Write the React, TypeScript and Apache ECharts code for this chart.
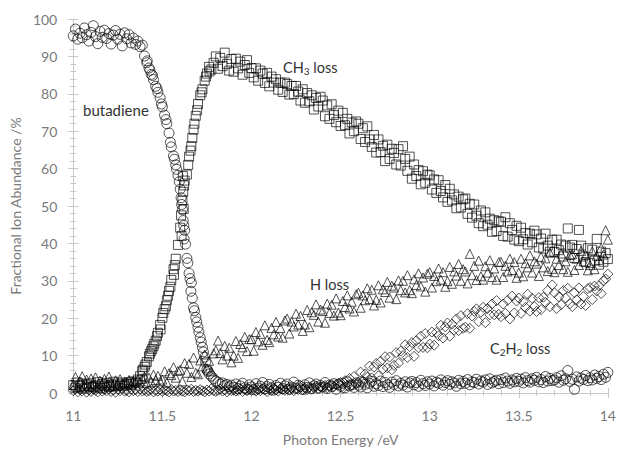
import React, { useEffect, useRef } from "react";
import * as echarts from "echarts";

// Photon energy grid (eV)
const energies = [
  11, 11.0125, 11.025, 11.0375, 11.05, 11.0625, 11.075, 11.0875,
  11.1, 11.1125, 11.125, 11.1375, 11.15, 11.1625, 11.175, 11.1875,
  11.2, 11.2125, 11.225, 11.2375, 11.25, 11.2625, 11.275, 11.2875,
  11.3, 11.3125, 11.325, 11.3375, 11.35, 11.3625, 11.375, 11.3875,
  11.4, 11.4125, 11.425, 11.4375, 11.45, 11.4625, 11.475, 11.4875,
  11.5, 11.5125, 11.525, 11.5375, 11.55, 11.5625, 11.575, 11.5875,
  11.6, 11.6125, 11.625, 11.6375, 11.65, 11.6625, 11.675, 11.6875,
  11.7, 11.7125, 11.725, 11.7375, 11.75, 11.7625, 11.775, 11.7875,
  11.8, 11.8125, 11.825, 11.8375, 11.85, 11.8625, 11.875, 11.8875,
  11.9, 11.9125, 11.925, 11.9375, 11.95, 11.9625, 11.975, 11.9875,
  12, 12.0125, 12.025, 12.0375, 12.05, 12.0625, 12.075, 12.0875,
  12.1, 12.1125, 12.125, 12.1375, 12.15, 12.1625, 12.175, 12.1875,
  12.2, 12.2125, 12.225, 12.2375, 12.25, 12.2625, 12.275, 12.2875,
  12.3, 12.3125, 12.325, 12.3375, 12.35, 12.3625, 12.375, 12.3875,
  12.4, 12.4125, 12.425, 12.4375, 12.45, 12.4625, 12.475, 12.4875,
  12.5, 12.5125, 12.525, 12.5375, 12.55, 12.5625, 12.575, 12.5875,
  12.6, 12.6125, 12.625, 12.6375, 12.65, 12.6625, 12.675, 12.6875,
  12.7, 12.7125, 12.725, 12.7375, 12.75, 12.7625, 12.775, 12.7875,
  12.8, 12.8125, 12.825, 12.8375, 12.85, 12.8625, 12.875, 12.8875,
  12.9, 12.9125, 12.925, 12.9375, 12.95, 12.9625, 12.975, 12.9875,
  13, 13.0125, 13.025, 13.0375, 13.05, 13.0625, 13.075, 13.0875,
  13.1, 13.1125, 13.125, 13.1375, 13.15, 13.1625, 13.175, 13.1875,
  13.2, 13.2125, 13.225, 13.2375, 13.25, 13.2625, 13.275, 13.2875,
  13.3, 13.3125, 13.325, 13.3375, 13.35, 13.3625, 13.375, 13.3875,
  13.4, 13.4125, 13.425, 13.4375, 13.45, 13.4625, 13.475, 13.4875,
  13.5, 13.5125, 13.525, 13.5375, 13.55, 13.5625, 13.575, 13.5875,
  13.6, 13.6125, 13.625, 13.6375, 13.65, 13.6625, 13.675, 13.6875,
  13.7, 13.7125, 13.725, 13.7375, 13.75, 13.7625, 13.775, 13.7875,
  13.8, 13.8125, 13.825, 13.8375, 13.85, 13.8625, 13.875, 13.8875,
  13.9, 13.9125, 13.925, 13.9375, 13.95, 13.9625, 13.975, 13.9875,
  14,
];

// Fractional ion abundance (%) on the energy grid
const butadiene = [
  95.5, 97.3, 94.6, 96.2, 95.0, 97.6, 95.8, 94.1,
  96.4, 98.2, 95.3, 93.4, 96.7, 95.1, 97.0, 94.8,
  96.1, 93.3, 95.7, 96.9, 94.6, 95.9, 92.8, 96.3,
  94.7, 95.8, 93.6, 94.9, 93.2, 94.1, 92.6, 93.0,
  90.1, 88.3, 86.9, 85.2, 83.8, 82.0, 80.4, 78.9,
  76.5, 74.3, 72.0, 69.5, 65.8, 63.4, 61.0, 58.2,
  54.5, 49.0, 43.5, 36.0, 32.0, 29.5, 22.8, 20.2,
  17.6, 14.8, 12.2, 9.6, 6.3, 5.1, 4.5, 3.8,
  3.2, 2.9, 2.4, 2.7, 2.0, 2.3, 1.7, 2.1,
  1.5, 2.4, 1.2, 1.9, 2.6, 1.4, 1.0, 2.2,
  1.6, 0.9, 2.5, 1.3, 1.8, 2.8, 1.1, 1.7,
  2.3, 1.4, 0.8, 2.0, 1.5, 2.6, 1.2, 1.9,
  2.4, 1.0, 1.6, 2.9, 1.3, 2.1, 1.8, 0.9,
  2.2, 1.5, 2.7, 1.1, 1.9, 2.4, 1.3, 2.0,
  1.6, 2.8, 1.2, 2.1, 1.7, 2.5, 1.0, 2.3,
  1.8, 2.6, 1.4, 3.0, 1.9, 2.2, 1.5, 2.7,
  2.1, 1.6, 2.9, 2.3, 1.4, 2.6, 3.1, 1.8,
  2.5, 2.0, 3.2, 1.7, 2.8, 2.2, 1.5, 2.9,
  2.3, 3.3, 1.9, 2.6, 2.1, 3.0, 1.6, 2.7,
  3.1, 2.2, 2.8, 1.8, 3.4, 2.5, 2.0, 3.0,
  2.4, 3.2, 1.9, 2.9, 2.6, 3.5, 2.1, 2.8,
  3.3, 2.3, 3.0, 2.7, 1.8, 3.4, 2.5, 3.1,
  2.6, 3.6, 2.2, 3.0, 2.8, 3.7, 2.4, 3.2,
  2.9, 3.5, 2.3, 3.8, 2.7, 3.1, 3.4, 2.5,
  3.6, 2.8, 4.0, 3.2, 2.6, 3.5, 3.0, 3.9,
  3.1, 3.7, 2.7, 4.1, 3.3, 2.9, 3.8, 3.4,
  4.2, 3.0, 3.6, 2.8, 4.4, 3.2, 3.9, 3.3,
  3.5, 4.1, 2.9, 4.6, 3.4, 3.8, 6.0, 3.1,
  3.7, 1.0, 4.3, 3.2, 4.0, 3.6, 4.7, 3.3,
  4.1, 3.5, 4.8, 3.9, 4.4, 3.6, 5.0, 4.2,
  5.5,
];

const ch3Loss = [
  2.1, 1.4, 2.8, 1.8, 2.5, 1.2, 2.3, 1.7,
  2.6, 1.5, 2.0, 2.9, 1.3, 2.4, 1.9, 2.7,
  1.6, 2.2, 3.0, 1.8, 2.5, 2.1, 2.8, 1.9,
  2.4, 2.9, 2.3, 3.1, 2.7, 3.6, 4.5, 5.8,
  7.0, 8.3, 9.8, 11.2, 12.5, 14.0, 16.1, 18.2,
  20.1, 22.4, 24.8, 27.3, 30.2, 33.1, 35.9, 39.6,
  44.2, 51.5, 56.8, 58.4, 63.2, 66.0, 70.4, 74.1,
  77.3, 79.6, 81.2, 83.5, 85.4, 87.2, 86.5, 88.3,
  90.0, 86.7, 89.6, 87.4, 91.0, 88.0, 86.2, 89.3,
  85.9, 89.4, 86.8, 88.6, 85.1, 87.7, 89.0, 85.6,
  86.9, 84.4, 86.8, 83.5, 86.2, 85.4, 82.9, 85.6,
  82.0, 84.6, 83.0, 83.9, 81.1, 83.0, 80.5, 83.0,
  82.6, 79.8, 82.1, 79.9, 82.1, 80.6, 78.2, 81.2,
  77.6, 80.2, 78.0, 79.6, 75.8, 78.9, 76.6, 79.2,
  78.2, 74.0, 76.9, 73.3, 77.2, 74.3, 72.4, 75.5,
  71.4, 74.9, 71.6, 73.3, 69.4, 72.3, 70.0, 72.6,
  72.0, 67.9, 70.8, 67.1, 71.3, 67.8, 65.8, 69.0,
  64.3, 67.8, 64.4, 66.1, 62.0, 66.4, 62.6, 65.3,
  64.2, 61.1, 65.2, 60.8, 66.0, 62.6, 59.4, 63.2,
  57.3, 61.1, 58.0, 59.6, 55.8, 59.3, 56.2, 58.4,
  58.2, 54.4, 57.1, 53.5, 56.9, 54.0, 52.3, 55.6,
  51.1, 54.6, 51.5, 53.1, 49.4, 52.5, 49.6, 51.8,
  52.0, 47.9, 50.6, 46.9, 50.4, 47.4, 45.4, 48.8,
  44.6, 48.3, 45.0, 46.6, 43.1, 46.2, 43.3, 45.9,
  45.8, 42.0, 47.0, 41.8, 45.4, 43.6, 41.0, 44.7,
  40.6, 44.2, 41.1, 42.8, 39.7, 42.6, 40.3, 43.4,
  42.4, 38.9, 41.3, 38.6, 42.6, 39.4, 37.8, 41.0,
  37.7, 41.0, 38.2, 39.7, 36.5, 39.4, 44.0, 38.9,
  39.6, 36.1, 38.5, 43.6, 39.4, 36.5, 35.0, 38.7,
  34.8, 38.3, 35.4, 41.2, 34.3, 37.8, 35.1, 37.4,
  35.8,
];

const hLoss = [
  2.2, 4.3, 1.6, 3.1, 4.5, 2.0, 3.6, 1.8,
  3.9, 2.4, 4.2, 1.7, 3.3, 2.6, 3.8, 2.1,
  4.4, 2.7, 1.9, 3.4, 2.3, 3.7, 2.5, 3.0,
  2.8, 3.5, 2.2, 3.2, 2.9, 3.6, 3.1, 3.8,
  4.4, 2.6, 4.1, 3.0, 4.9, 3.5, 4.6, 3.1,
  3.6, 5.8, 2.8, 5.3, 4.8, 6.9, 4.1, 5.9,
  6.2, 3.1, 8.0, 5.4, 7.8, 4.3, 9.5, 5.4,
  5.0, 8.7, 7.1, 10.3, 6.6, 8.6, 5.8, 10.6,
  11.4, 14.0, 10.7, 9.0, 12.6, 10.0, 12.1, 8.2,
  10.0, 13.9, 9.4, 13.1, 12.2, 15.0, 11.2, 14.4,
  14.4, 11.3, 16.3, 13.8, 15.8, 12.9, 18.1, 14.2,
  13.6, 17.4, 15.7, 19.0, 15.1, 17.4, 14.8, 19.4,
  19.9, 15.9, 19.1, 17.8, 21.2, 18.3, 20.6, 16.6,
  18.3, 22.2, 17.6, 21.6, 20.9, 23.7, 19.1, 22.3,
  21.9, 18.8, 23.9, 21.4, 23.6, 20.7, 25.3, 21.5,
  20.8, 24.6, 23.0, 26.1, 22.6, 24.4, 21.8, 26.4,
  26.8, 22.8, 26.1, 24.8, 28.0, 25.1, 27.6, 23.4,
  24.9, 28.8, 24.2, 27.7, 27.0, 29.7, 25.5, 28.7,
  28.2, 25.1, 30.1, 27.5, 30.0, 26.9, 31.5, 27.5,
  26.7, 30.4, 28.9, 32.0, 28.5, 30.9, 27.1, 31.9,
  32.3, 28.2, 31.3, 29.9, 33.3, 30.3, 32.3, 28.4,
  29.9, 33.7, 29.2, 32.5, 31.4, 34.5, 30.0, 33.1,
  32.5, 29.3, 37.2, 31.5, 34.0, 30.2, 35.4, 31.2,
  30.3, 33.9, 32.2, 35.5, 31.0, 33.3, 30.3, 35.0,
  35.1, 31.0, 34.0, 32.5, 35.9, 32.9, 35.0, 30.8,
  32.2, 35.9, 31.2, 34.7, 33.6, 36.8, 32.2, 35.2,
  34.6, 31.3, 36.4, 33.6, 36.0, 32.6, 37.5, 33.2,
  32.3, 35.9, 34.2, 37.3, 33.1, 35.2, 32.4, 36.9,
  37.1, 32.9, 35.9, 34.2, 38.0, 35.2, 36.9, 32.8,
  34.2, 37.9, 33.1, 36.7, 35.6, 38.8, 37.0, 43.5,
  41.0,
];

const c2h2Loss = [
  0.6, 1.1, 0.3, 0.9, 0.5, 1.3, 0.2, 0.8,
  0.4, 1.0, 0.7, 0.3, 1.2, 0.5, 0.9, 0.6,
  1.1, 0.4, 0.8, 0.2, 1.0, 0.6, 1.3, 0.5,
  0.7, 0.3, 1.0, 0.6, 0.9, 0.4, 1.1, 0.5,
  0.8, 0.4, 0.6, 1.0, 0.3, 0.7, 0.5, 0.9,
  0.4, 0.8, 0.6, 0.3, 1.0, 0.5, 0.7, 0.4,
  0.9, 0.5, 0.3, 0.8, 0.6, 1.0, 0.4, 0.7,
  0.5, 0.9, 0.6, 0.3, 0.8, 0.5, 1.1, 0.6,
  0.4, 0.7, 1.0, 0.5, 0.8, 0.3, 0.9, 0.6,
  0.8, 0.5, 0.7, 1.1, 0.4, 0.9, 0.6, 1.0,
  0.7, 1.2, 0.5, 0.9, 0.6, 1.1, 0.8, 0.4,
  1.0, 0.6, 1.3, 0.8, 0.5, 1.2, 0.9, 0.7,
  1.1, 0.8, 1.4, 0.6, 1.2, 0.9, 1.5, 1.0,
  1.3, 0.9, 1.6, 1.1, 1.4, 1.8, 1.2, 1.7,
  1.5, 2.0, 1.4, 1.9, 2.3, 1.7, 2.2, 2.6,
  2.8, 1.2, 3.3, 2.0, 3.9, 2.2, 4.4, 2.5,
  2.9, 5.6, 3.1, 5.1, 4.2, 7.2, 4.0, 6.9,
  7.9, 4.6, 8.5, 6.4, 9.7, 6.7, 9.6, 6.2,
  7.4, 10.8, 8.0, 11.2, 10.0, 12.9, 9.5, 12.4,
  13.5, 9.8, 14.0, 12.1, 15.2, 12.2, 15.9, 12.1,
  13.1, 16.3, 12.8, 16.2, 15.3, 18.1, 14.7, 17.7,
  18.7, 15.2, 18.4, 16.8, 19.8, 16.7, 20.7, 17.3,
  17.6, 21.2, 17.3, 20.6, 21.8, 22.5, 19.1, 21.6,
  22.9, 18.8, 22.6, 20.9, 23.8, 20.9, 24.7, 21.0,
  20.4, 23.8, 21.3, 24.8, 19.8, 25.9, 21.4, 24.6,
  25.4, 21.3, 24.4, 22.9, 26.4, 21.9, 25.3, 23.1,
  21.8, 25.5, 22.3, 25.6, 24.2, 27.4, 23.1, 28.9,
  26.8, 22.6, 25.7, 23.6, 27.4, 25.4, 28.0, 23.9,
  23.1, 26.8, 24.9, 28.1, 23.8, 25.8, 23.4, 27.9,
  28.2, 25.0, 28.6, 27.3, 28.7, 26.6, 30.0, 30.5,
  31.8,
];

// Additional readings in the steep onset region [energy, abundance]
const butadieneSteep = [
  [11.415, 88.8], [11.43, 86.3], [11.445, 84.9], [11.47, 81.4], [11.495, 77.3],
  [11.52, 73.1], [11.545, 67.0], [11.568, 62.5], [11.58, 59.8], [11.595, 56.5],
  [11.605, 52.2], [11.608, 50.4], [11.617, 46.1], [11.62, 44.8], [11.622, 41.2],
  [11.63, 39.8], [11.643, 34.8], [11.655, 30.6], [11.66, 27.2], [11.668, 25.4],
  [11.68, 22.0], [11.693, 19.0], [11.705, 16.3], [11.718, 13.6], [11.73, 11.0],
  [11.743, 8.2], [11.755, 5.8],
];

const ch3Steep = [
  [11.39, 6.2], [11.405, 7.6], [11.43, 10.5], [11.443, 11.8], [11.455, 13.2],
  [11.47, 15.2], [11.49, 17.0], [11.505, 21.4], [11.52, 23.2], [11.532, 26.0],
  [11.545, 28.4], [11.565, 31.6], [11.57, 34.2], [11.605, 47.5], [11.608, 42.0],
  [11.615, 58.0], [11.617, 53.8], [11.62, 49.2], [11.622, 55.5], [11.645, 61.0],
  [11.658, 64.8], [11.668, 68.2], [11.68, 72.0], [11.695, 75.6], [11.72, 80.4],
  [11.745, 84.6], [11.765, 86.0],
];

const xTicks = { min: 11, max: 14, interval: 0.5 };
const yTicks = { min: 0, max: 100, interval: 10 };

const FONT = 'Lato, "Open Sans", sans-serif';
const AXIS_GREY = "#c8c8c8";
const LABEL_GREY = "#7a7a7a";
const INK = "rgba(0,0,0,0.85)";

function pairs(ys: number[]) {
  return energies.map((x, i) => [x, ys[i]]);
}

export default function App() {
  const ref = useRef<HTMLDivElement>(null);

  useEffect(() => {
    if (!ref.current) return;
    const chart = echarts.init(ref.current, undefined, { renderer: "svg" });

    const marker = (symbol: string, size: number) => ({
      type: "scatter" as const,
      symbol,
      symbolSize: size,
      itemStyle: { color: "transparent", borderColor: INK, borderWidth: 1 },
      emphasis: { disabled: true },
      silent: true,
    });

    const axisCommon = {
      axisLine: { show: true, lineStyle: { color: AXIS_GREY, width: 1 } },
      splitLine: { show: false },
    };

    const richSub = {
      n: { fontFamily: FONT, fontSize: 14.5, fill: "#333", lineHeight: 18, verticalAlign: "middle" },
      s: { fontFamily: FONT, fontSize: 10, fill: "#333", lineHeight: 10, verticalAlign: "bottom" },
    };

    const option: any = {
      animation: false,
      backgroundColor: "#ffffff",
      grid: { left: 71, right: 8, top: 19, bottom: 51, containLabel: false },
      xAxis: [
        {
          type: "value",
          ...xTicks,
          position: "bottom",
          ...axisCommon,
          axisTick: { show: true, length: 5, lineStyle: { color: AXIS_GREY } },
          minorTick: { show: true, splitNumber: 5, length: 3, lineStyle: { color: AXIS_GREY } },
          axisLabel: {
            color: LABEL_GREY,
            fontFamily: FONT,
            fontSize: 14,
            margin: 15,
            formatter: (v: number) => String(v),
          },
          name: "Photon Energy /eV",
          nameLocation: "middle",
          nameGap: 39,
          nameTextStyle: { color: LABEL_GREY, fontFamily: FONT, fontSize: 14 },
        },
        {
          type: "value",
          ...xTicks,
          position: "bottom",
          axisLine: { show: false },
          splitLine: { show: false },
          axisTick: { show: true, inside: true, length: 5, lineStyle: { color: AXIS_GREY } },
          minorTick: { show: true, splitNumber: 5, length: 3, lineStyle: { color: AXIS_GREY } },
          axisLabel: { show: false },
        },
      ],
      yAxis: [
        {
          type: "value",
          ...yTicks,
          position: "left",
          ...axisCommon,
          axisTick: { show: true, length: 5, lineStyle: { color: AXIS_GREY } },
          minorTick: { show: true, splitNumber: 5, length: 3, lineStyle: { color: AXIS_GREY } },
          axisLabel: { color: LABEL_GREY, fontFamily: FONT, fontSize: 14, margin: 16 },
          name: "Fractional Ion Abundance /%",
          nameLocation: "middle",
          nameGap: 46,
          nameTextStyle: { color: LABEL_GREY, fontFamily: FONT, fontSize: 14 },
        },
        {
          type: "value",
          ...yTicks,
          position: "left",
          offset: 0,
          axisLine: { show: false },
          splitLine: { show: false },
          axisTick: { show: true, inside: true, length: 5, lineStyle: { color: AXIS_GREY } },
          minorTick: { show: true, splitNumber: 5, length: 3, lineStyle: { color: AXIS_GREY } },
          axisLabel: { show: false },
        },
      ],
      series: [
        { ...marker("circle", 10), name: "butadiene", data: pairs(butadiene).concat(butadieneSteep) },
        { ...marker("rect", 9), name: "CH3 loss", data: pairs(ch3Loss).concat(ch3Steep) },
        { ...marker("triangle", 9), name: "H loss", data: pairs(hLoss) },
        { ...marker("diamond", 10), name: "C2H2 loss", data: pairs(c2h2Loss) },
      ],
      graphic: [
        {
          type: "text",
          x: 83,
          y: 110,
          style: { text: "butadiene", fontFamily: FONT, fontSize: 15, fill: "#333", verticalAlign: "middle" },
        },
        {
          type: "text",
          x: 283,
          y: 67,
          style: { text: "{n|CH}{s|3}{n| loss}", verticalAlign: "middle", rich: richSub },
        },
        {
          type: "text",
          x: 310,
          y: 284,
          style: { text: "H loss", fontFamily: FONT, fontSize: 14.5, fill: "#333", verticalAlign: "middle" },
        },
        {
          type: "text",
          x: 490,
          y: 348,
          style: { text: "{n|C}{s|2}{n|H}{s|2}{n| loss}", verticalAlign: "middle", rich: richSub },
        },
      ],
    };

    chart.setOption(option);
    return () => chart.dispose();
  }, []);

  return (
    <div
      ref={ref}
      style={{ position: "absolute", left: 0, top: 0, width: 619, height: 451, background: "#fff" }}
    />
  );
}
